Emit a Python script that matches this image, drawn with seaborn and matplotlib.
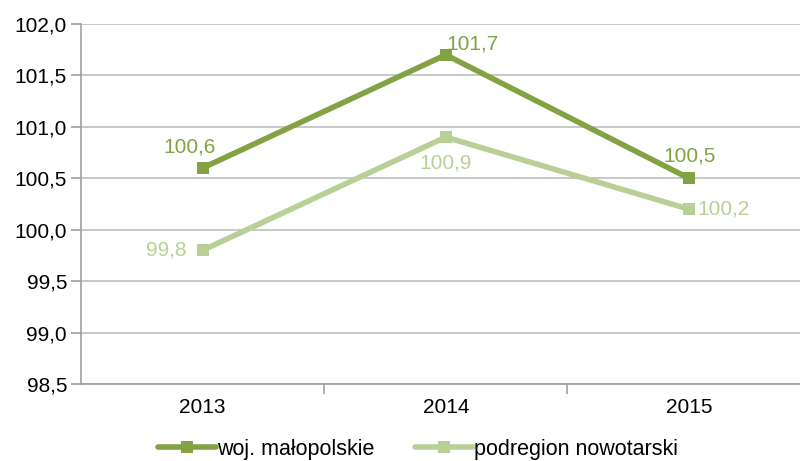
import numpy as np
import pandas as pd
import matplotlib
matplotlib.use("Agg")
import matplotlib.pyplot as plt
import seaborn as sns
from matplotlib.ticker import FixedLocator, FuncFormatter

years = ["2013", "2014", "2015"]
malopolskie = [100.6, 101.7, 100.5]
nowotarski = [99.8, 100.9, 100.2]
series_names = ["woj. małopolskie", "podregion nowotarski"]
y_ticks = [98.5, 99.0, 99.5, 100.0, 100.5, 101.0, 101.5, 102.0]

dark = "#82a244"
light = "#b8d095"

df = pd.DataFrame({
    "rok": years * 2,
    "wartosc": malopolskie + nowotarski,
    "seria": [series_names[0]] * 3 + [series_names[1]] * 3,
})

sns.set_style("white")
plt.rcParams["font.family"] = ["Liberation Sans", "DejaVu Sans"]
plt.rcParams["text.color"] = "black"
plt.rcParams["xtick.labelcolor"] = "black"
plt.rcParams["ytick.labelcolor"] = "black"

fig = plt.figure(figsize=(8, 4.61), dpi=100)
ax = fig.add_axes([81 / 800, 1 - 384 / 461, 729.5 / 800, 360 / 461])

sns.lineplot(data=df, x="rok", y="wartosc", hue="seria", hue_order=series_names,
             palette=[dark, light], marker="s", markersize=9, markeredgewidth=0,
             linewidth=4, ax=ax, sort=False)

ax.set_xlim(-0.5, 2.5)
ax.set_ylim(98.5, 102.0)
ax.yaxis.set_major_locator(FixedLocator(y_ticks))
ax.yaxis.set_major_formatter(FuncFormatter(lambda v, p: f"{v:.1f}".replace(".", ",")))
ax.grid(axis="y", color="#bfbfbf", linewidth=1.2)
ax.set_axisbelow(True)
ax.set_xlabel("")
ax.set_ylabel("")

for s in ["top", "right"]:
    ax.spines[s].set_visible(False)
for s in ["left", "bottom"]:
    ax.spines[s].set_color("#a0a0a0")
    ax.spines[s].set_linewidth(1.2)

fs = 15
ax.tick_params(axis="y", which="major", length=7, color="#a0a0a0", width=1.2,
               labelsize=fs, pad=3, left=True, labelcolor="black")
ax.tick_params(axis="x", which="major", length=0, labelsize=fs, pad=10, labelcolor="black")
ax.set_xticks([0.5, 1.5, 2.5], minor=True)
ax.tick_params(axis="x", which="minor", length=7, color="#a0a0a0", width=1.2, bottom=True)

# data labels, offsets in pixels (x right, y up)
px = 0.72
dark_pos = [(-13, 21, "center"), (27, 11, "center"), (1, 22, "center")]
light_pos = [(-16, 0, "right"), (0, -26, "center"), (8, 0, "left")]
for vals, pos, col in [(malopolskie, dark_pos, dark), (nowotarski, light_pos, light)]:
    for i, v in enumerate(vals):
        dx, dy, ha = pos[i]
        ax.annotate(f"{v:.1f}".replace(".", ","), (i, v), xytext=(dx * px, dy * px),
                    textcoords="offset points", ha=ha, va="center",
                    color=col, fontsize=fs)

leg = ax.legend(loc="center", bbox_to_anchor=(418 / 800, 1 - 449 / 461),
                bbox_transform=fig.transFigure, ncol=2, frameon=False,
                fontsize=15.5, handlelength=2.7, columnspacing=1.9, handletextpad=0.05)
for t in leg.get_texts():
    t.set_color("black")

fig.savefig("out.png", dpi=100)
